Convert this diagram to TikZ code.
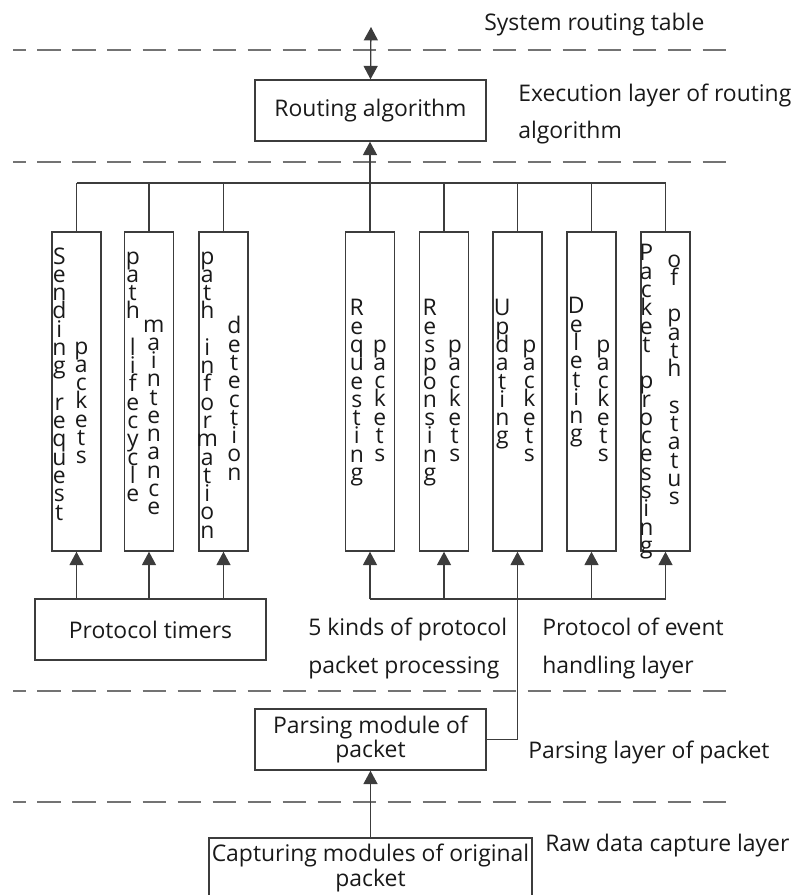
\documentclass[tikz,border=0pt]{standalone}
\usepackage{fontspec}
\setmainfont{Open Sans}
\usepackage{xcolor}
\usepackage{tikz}
\usetikzlibrary{arrows.meta, positioning, calc}
\definecolor{Trazo}{RGB}{60,60,60}
\definecolor{Raya} {RGB}{115,115,115}
\definecolor{Letra}{RGB}{25,25,25}
\newcommand\lbl{\fontsize{16.3}{26.5}\selectfont}
\newcommand\vtext[1]{\vbox{\baselineskip=13pt\lineskiplimit=-\maxdimen\vstep#1\relax}}
\newcommand\vstep[1]{\ifx#1\relax\else\hbox to 1.2em{\hss\ifx#1~\else#1\fi\hss}\expandafter\vstep\fi}

\begin{document}
\begin{tikzpicture}[x=0.025cm,y=-0.025cm,
    caja/.style={draw=Trazo,line width=1pt,minimum width=5.775cm,minimum height=1.525cm,inner sep=0pt,align=center,font=\fontsize{16.3}{17.2}\selectfont,text=Letra},
    barra/.style={draw=Trazo,line width=1pt,minimum width=1.225cm,minimum height=7.975cm,inner sep=0pt},
    col/.style={anchor=north,inner sep=0pt,font=\lbl,text=Letra},
    etiq/.style={anchor=west,inner sep=0pt,align=left,font=\lbl,text=Letra},
    linea/.style={Trazo,line width=0.9pt},
    arr/.style={linea,-{Triangle[length=9.5pt,width=10pt]}},
    dbl/.style={linea,{Triangle[length=9.5pt,width=10pt]}-{Triangle[length=9.5pt,width=10pt]}},
    capa/.style={Raya,line width=1.3pt,dash pattern=on 16.7pt off 8.2pt,dash phase=7.5pt}]
  \useasboundingbox (0,0) rectangle (792,895);

  % layer borders
  \foreach \y in {50,162,691,802}
    \draw[capa] (13,\y) -- (727,\y);

  % modules
  \node[caja] (route) at (370.5,110.5) {Routing algorithm};
  \node[caja] (timers) at (150.5,629.5) {Protocol timers};
  \node[caja] (parse) at (370.5,739.5) {Parsing module of\\packet};
  \node[caja,minimum width=8.075cm,minimum height=1.5cm] (cap) at (370.5,868) {Capturing modules of original\\packet};

  % packet handlers, text stacked letter by letter
  \foreach \n/\x/\ta/\ax/\ay/\tb/\bx/\by in {
      send/76.5/Sending~request/8/16/packets/30/110,
      life/149/path~lifecycle/9/20/maintenance/30/88,
      info/223.5/path~information/9/20/detection/36/85,
      req/370/Requesting/12/68/packets/35/108,
      resp/444/Responsing/11/68/packets/36/108,
      upd/517.5/Updating/10/68/packets/37/108,
      del/591.5/Deleting/10/66/packets/37/108,
      proc/665.5/Packet~processing/6/13/of~path~status/34/23}{
    \node[barra] (\n) at (\x,391.5) {};
    \node[col] (\n-a) at ($(\n.north west)+(\ax,\ay)$) {\expandafter\vtext\expandafter{\ta}};
    \node[col] (\n-b) at ($(\n.north west)+(\bx,\by)$) {\expandafter\vtext\expandafter{\tb}};
  }

  % layer names
  \node[etiq] (sys) at (484,25) {System routing table};
  \node[etiq] (exec) at (518,114) {Execution layer of routing\\algorithm};
  \node[etiq] (kinds) at (308,648.5) {5 kinds of protocol\\packet processing};
  \node[etiq] (event) at (542,648.5) {Protocol of event\\handling layer};
  \node[etiq] (parsl) at (528,752) {Parsing layer of packet};
  \node[etiq] (rawl) at (545,846) {Raw data capture layer};

  % connectors
  \coordinate (tbl) at (371,27);
  \coordinate (busL) at (76.5,183);
  \coordinate (lbus) at (0,599);
  \draw[dbl] (tbl) -- (route.north);
  \draw[linea] (busL) -- (proc.north |- busL);
  \foreach \n in {send,life,info,resp,upd,del,proc}
    \draw[linea] (\n.north) -- (\n.north |- busL);
  \draw[arr] (req.north) -- (req.north |- route.south);
  \foreach \n in {send,life,info}
    \draw[arr] (\n.south |- timers.north) -- (\n.south);
  \draw[linea] (req.south |- lbus) -- (proc.south |- lbus);
  \foreach \n in {req,resp,del,proc}
    \draw[arr] (\n.south |- lbus) -- (\n.south);
  \draw[arr] (parse.east) -| (upd.south);
  \draw[arr] (cap.north) -- (parse.south);
\end{tikzpicture}
\end{document}
